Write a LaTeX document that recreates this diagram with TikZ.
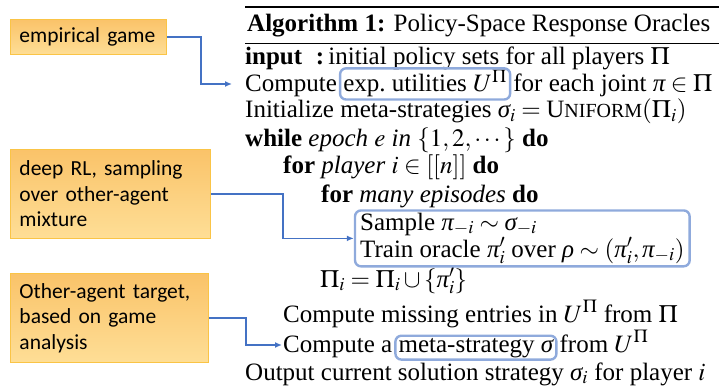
\documentclass[tikz,border=0pt]{standalone}
\usepackage{mathptmx}
\usepackage{amsmath}
\usepackage[no-math]{fontspec}
\setmainfont{Liberation Serif}
\newfontfamily\labelfont{Carlito}
\usetikzlibrary{fit,arrows.meta}
\definecolor{hlblue}{RGB}{143,170,220}
\definecolor{arrblue}{RGB}{68,114,196}
\definecolor{lbtop}{RGB}{250,195,105}
\definecolor{lbbot}{RGB}{254,222,150}
\definecolor{lbborder}{RGB}{250,196,70}
\newcommand{\algsize}{\fontsize{25}{28}\selectfont}
\newcommand{\smcp}[2]{#1{\fontsize{20}{22}\selectfont #2}}
\newcommand{\Gsig}{\text{\itshape σ}}
\newcommand{\Gpi}{\text{\itshape π}}
\newcommand{\Grho}{\text{\itshape ρ}}
\begin{document}
\begin{tikzpicture}[x=1pt,y=-1pt,
  txt/.style={anchor=base west,inner sep=0pt,font=\algsize},
  hl/.style={draw=hlblue,line width=2.4pt,rounded corners=6pt,inner xsep=3pt,inner ysep=2pt},
  lab/.style={draw=lbborder,line width=1pt,top color=lbtop,bottom color=lbbot,
     anchor=north west,inner xsep=9pt,inner ysep=0pt,align=left,
     font=\labelfont\fontsize{21.5}{25.5}\selectfont},
  arr/.style={draw=arrblue,line width=1.5pt,-{Latex[length=7pt,width=6pt]}}]
\useasboundingbox (0,0) rectangle (719,390);
% rules
\draw[line width=2pt] (245,7) -- (719,7);
\draw[line width=1.6pt] (245,43.5) -- (719,43.5);
% caption
\node[txt] (cap) at (247,32) {\textbf{Algorithm 1:} Policy-Space Response Oracles};
% lines
\node[txt] (l1) at (245,65) {\textbf{input}\hspace{0.55em}\textbf{:}\,initial policy sets for all players $\Pi$};
\node[txt] (l2a) at (245,92) {Compute};
\node[txt] (l2b) at ([xshift=6pt]l2a.base east) {exp.\ utilities $U^{\Pi}$};
\node[txt] (l2c) at ([xshift=6pt]l2b.base east) {for each joint $\Gpi\in\Pi$};
\node[txt] (l3) at (245,118) {Initialize meta-strategies $\Gsig_i=\textrm{\smcp{U}{NIFORM}}(\Pi_i)$};
\node[txt] (l4) at (245,147) {\textbf{while} \textit{epoch $e$ in} $\{1,2,\cdots\}$ \textbf{do}};
\node[txt] (l5) at (283,173) {\textbf{for} \textit{player} $i\in[[n]]$ \textbf{do}};
\node[txt] (l6) at (321,202) {\textbf{for} \textit{many episodes} \textbf{do}};
\node[txt] (l7) at (360,230) {Sample $\Gpi_{-i}\sim\Gsig_{-i}$};
\node[txt] (l8) at (360,257) {Train oracle $\Gpi'_i$ over $\Grho\sim(\Gpi'_i,\Gpi_{-i})$};
\node[txt] (l9) at (320,287) {$\Pi_i=\Pi_i\cup\{\Gpi'_i\}$};
\node[txt] (l10) at (283,322) {Compute missing entries in $U^{\Pi}$ from $\Pi$};
\node[txt] (l11a) at (283,352) {Compute a};
\node[txt] (l11b) at ([xshift=6pt]l11a.base east) {meta-strategy $\Gsig$};
\node[txt] (l11c) at ([xshift=6pt]l11b.base east) {from $U^{\Pi}$};
\node[txt] (l12) at (245,380) {Output current solution strategy $\Gsig_i$ for player $i$};
% highlight boxes
\node[hl,fit=(l2b)] (h1) {};
\node[hl,fit=(l7)(l8),inner xsep=5pt] (h2) {};
\node[hl,fit=(l11b)] (h3) {};
% labels
\node[lab,minimum width=156pt,minimum height=35pt,text width=138pt] (lab1) at (10,19) {empirical game};
\node[lab,minimum width=200pt,minimum height=89pt,text width=182pt] (lab2) at (10,149) {deep RL, sampling\\over other-agent\\mixture};
\node[lab,minimum width=198pt,minimum height=89pt,text width=180pt] (lab3) at (10,273) {Other-agent target,\\based on game\\analysis};
% connectors
\coordinate (t1) at (232,84);
\coordinate (t3) at (282,345);
\draw[arr] (lab1.east) -- ++(34,0) |- (t1);
\draw[arr] (lab2.east) -- ++(72,0) |- (h2.west);
\draw[arr] (lab3.east) -- ++(37,0) |- (t3);
\end{tikzpicture}
\end{document}
